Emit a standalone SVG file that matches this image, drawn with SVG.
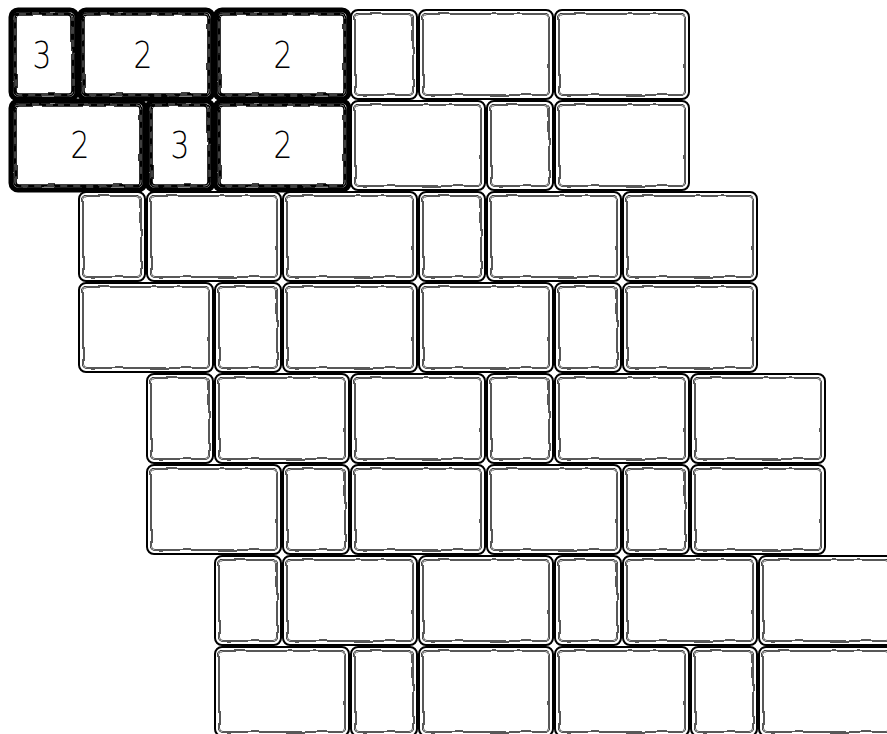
<svg xmlns="http://www.w3.org/2000/svg" width="887" height="734" viewBox="0 0 887 734">
<style>
.o{fill:#fff;stroke:#000;stroke-width:2}
.oh{fill:#fff;stroke:#000;stroke-width:5}
.ib{fill:none;stroke:#000;stroke-width:2}
.iw{fill:none;stroke:#fff;stroke-width:0.7}
.ibh{fill:none;stroke:#000;stroke-width:3.6}
.iwh{fill:none;stroke:#fff;stroke-width:0.5;stroke-dasharray:7 6}
.t{font-family:'DejaVu Sans','Liberation Sans',sans-serif;font-weight:200;font-size:38px;fill:#000;text-anchor:middle}
</style>
<defs>
<filter id="wv" x="-5%" y="-5%" width="110%" height="110%">
<feTurbulence type="fractalNoise" baseFrequency="0.06" numOctaves="1" seed="4"/>
<feDisplacementMap in="SourceGraphic" scale="3.5" xChannelSelector="R" yChannelSelector="G"/>
</filter>
<rect id="o1" x="1" y="1" width="66" height="89" rx="7"/>
<rect id="o2" x="1" y="1" width="134" height="89" rx="7"/>
<rect id="i1" x="5" y="5" width="58" height="81" rx="4"/>
<rect id="i2" x="5" y="5" width="126" height="81" rx="4"/>
</defs>
<rect width="887" height="734" fill="#fff"/>
<g id="bricks">
<!-- row 0 -->
<g id="r0b0" transform="translate(10,9)"><use href="#o1" class="oh"/><g filter="url(#wv)"><use href="#i1" class="ibh"/><use href="#i1" class="iwh"/></g><text class="t" transform="translate(32,59) scale(0.78,1)">3</text></g>
<g id="r0b1" transform="translate(78,9)"><use href="#o2" class="oh"/><g filter="url(#wv)"><use href="#i2" class="ibh"/><use href="#i2" class="iwh"/></g><text class="t" transform="translate(65,59) scale(0.78,1)">2</text></g>
<g id="r0b2" transform="translate(214,9)"><use href="#o2" class="oh"/><g filter="url(#wv)"><use href="#i2" class="ibh"/><use href="#i2" class="iwh"/></g><text class="t" transform="translate(69,59) scale(0.78,1)">2</text></g>
<g id="r0b3" transform="translate(350,9)"><use href="#o1" class="o"/><g filter="url(#wv)"><use href="#i1" class="ib"/><use href="#i1" class="iw"/></g></g>
<g id="r0b4" transform="translate(418,9)"><use href="#o2" class="o"/><g filter="url(#wv)"><use href="#i2" class="ib"/><use href="#i2" class="iw"/></g></g>
<g id="r0b5" transform="translate(554,9)"><use href="#o2" class="o"/><g filter="url(#wv)"><use href="#i2" class="ib"/><use href="#i2" class="iw"/></g></g>
<!-- row 1 -->
<g id="r1b0" transform="translate(10,100)"><use href="#o2" class="oh"/><g filter="url(#wv)"><use href="#i2" class="ibh"/><use href="#i2" class="iwh"/></g><text class="t" transform="translate(70,58) scale(0.78,1)">2</text></g>
<g id="r1b1" transform="translate(146,100)"><use href="#o1" class="oh"/><g filter="url(#wv)"><use href="#i1" class="ibh"/><use href="#i1" class="iwh"/></g><text class="t" transform="translate(34,58) scale(0.78,1)">3</text></g>
<g id="r1b2" transform="translate(214,100)"><use href="#o2" class="oh"/><g filter="url(#wv)"><use href="#i2" class="ibh"/><use href="#i2" class="iwh"/></g><text class="t" transform="translate(69,58) scale(0.78,1)">2</text></g>
<g id="r1b3" transform="translate(350,100)"><use href="#o2" class="o"/><g filter="url(#wv)"><use href="#i2" class="ib"/><use href="#i2" class="iw"/></g></g>
<g id="r1b4" transform="translate(486,100)"><use href="#o1" class="o"/><g filter="url(#wv)"><use href="#i1" class="ib"/><use href="#i1" class="iw"/></g></g>
<g id="r1b5" transform="translate(554,100)"><use href="#o2" class="o"/><g filter="url(#wv)"><use href="#i2" class="ib"/><use href="#i2" class="iw"/></g></g>
<!-- row 2 -->
<g id="r2b0" transform="translate(78,191)"><use href="#o1" class="o"/><g filter="url(#wv)"><use href="#i1" class="ib"/><use href="#i1" class="iw"/></g></g>
<g id="r2b1" transform="translate(146,191)"><use href="#o2" class="o"/><g filter="url(#wv)"><use href="#i2" class="ib"/><use href="#i2" class="iw"/></g></g>
<g id="r2b2" transform="translate(282,191)"><use href="#o2" class="o"/><g filter="url(#wv)"><use href="#i2" class="ib"/><use href="#i2" class="iw"/></g></g>
<g id="r2b3" transform="translate(418,191)"><use href="#o1" class="o"/><g filter="url(#wv)"><use href="#i1" class="ib"/><use href="#i1" class="iw"/></g></g>
<g id="r2b4" transform="translate(486,191)"><use href="#o2" class="o"/><g filter="url(#wv)"><use href="#i2" class="ib"/><use href="#i2" class="iw"/></g></g>
<g id="r2b5" transform="translate(622,191)"><use href="#o2" class="o"/><g filter="url(#wv)"><use href="#i2" class="ib"/><use href="#i2" class="iw"/></g></g>
<!-- row 3 -->
<g id="r3b0" transform="translate(78,282)"><use href="#o2" class="o"/><g filter="url(#wv)"><use href="#i2" class="ib"/><use href="#i2" class="iw"/></g></g>
<g id="r3b1" transform="translate(214,282)"><use href="#o1" class="o"/><g filter="url(#wv)"><use href="#i1" class="ib"/><use href="#i1" class="iw"/></g></g>
<g id="r3b2" transform="translate(282,282)"><use href="#o2" class="o"/><g filter="url(#wv)"><use href="#i2" class="ib"/><use href="#i2" class="iw"/></g></g>
<g id="r3b3" transform="translate(418,282)"><use href="#o2" class="o"/><g filter="url(#wv)"><use href="#i2" class="ib"/><use href="#i2" class="iw"/></g></g>
<g id="r3b4" transform="translate(554,282)"><use href="#o1" class="o"/><g filter="url(#wv)"><use href="#i1" class="ib"/><use href="#i1" class="iw"/></g></g>
<g id="r3b5" transform="translate(622,282)"><use href="#o2" class="o"/><g filter="url(#wv)"><use href="#i2" class="ib"/><use href="#i2" class="iw"/></g></g>
<!-- row 4 -->
<g id="r4b0" transform="translate(146,373)"><use href="#o1" class="o"/><g filter="url(#wv)"><use href="#i1" class="ib"/><use href="#i1" class="iw"/></g></g>
<g id="r4b1" transform="translate(214,373)"><use href="#o2" class="o"/><g filter="url(#wv)"><use href="#i2" class="ib"/><use href="#i2" class="iw"/></g></g>
<g id="r4b2" transform="translate(350,373)"><use href="#o2" class="o"/><g filter="url(#wv)"><use href="#i2" class="ib"/><use href="#i2" class="iw"/></g></g>
<g id="r4b3" transform="translate(486,373)"><use href="#o1" class="o"/><g filter="url(#wv)"><use href="#i1" class="ib"/><use href="#i1" class="iw"/></g></g>
<g id="r4b4" transform="translate(554,373)"><use href="#o2" class="o"/><g filter="url(#wv)"><use href="#i2" class="ib"/><use href="#i2" class="iw"/></g></g>
<g id="r4b5" transform="translate(690,373)"><use href="#o2" class="o"/><g filter="url(#wv)"><use href="#i2" class="ib"/><use href="#i2" class="iw"/></g></g>
<!-- row 5 -->
<g id="r5b0" transform="translate(146,464)"><use href="#o2" class="o"/><g filter="url(#wv)"><use href="#i2" class="ib"/><use href="#i2" class="iw"/></g></g>
<g id="r5b1" transform="translate(282,464)"><use href="#o1" class="o"/><g filter="url(#wv)"><use href="#i1" class="ib"/><use href="#i1" class="iw"/></g></g>
<g id="r5b2" transform="translate(350,464)"><use href="#o2" class="o"/><g filter="url(#wv)"><use href="#i2" class="ib"/><use href="#i2" class="iw"/></g></g>
<g id="r5b3" transform="translate(486,464)"><use href="#o2" class="o"/><g filter="url(#wv)"><use href="#i2" class="ib"/><use href="#i2" class="iw"/></g></g>
<g id="r5b4" transform="translate(622,464)"><use href="#o1" class="o"/><g filter="url(#wv)"><use href="#i1" class="ib"/><use href="#i1" class="iw"/></g></g>
<g id="r5b5" transform="translate(690,464)"><use href="#o2" class="o"/><g filter="url(#wv)"><use href="#i2" class="ib"/><use href="#i2" class="iw"/></g></g>
<!-- row 6 -->
<g id="r6b0" transform="translate(214,555)"><use href="#o1" class="o"/><g filter="url(#wv)"><use href="#i1" class="ib"/><use href="#i1" class="iw"/></g></g>
<g id="r6b1" transform="translate(282,555)"><use href="#o2" class="o"/><g filter="url(#wv)"><use href="#i2" class="ib"/><use href="#i2" class="iw"/></g></g>
<g id="r6b2" transform="translate(418,555)"><use href="#o2" class="o"/><g filter="url(#wv)"><use href="#i2" class="ib"/><use href="#i2" class="iw"/></g></g>
<g id="r6b3" transform="translate(554,555)"><use href="#o1" class="o"/><g filter="url(#wv)"><use href="#i1" class="ib"/><use href="#i1" class="iw"/></g></g>
<g id="r6b4" transform="translate(622,555)"><use href="#o2" class="o"/><g filter="url(#wv)"><use href="#i2" class="ib"/><use href="#i2" class="iw"/></g></g>
<g id="r6b5" transform="translate(758,555)"><use href="#o2" class="o"/><g filter="url(#wv)"><use href="#i2" class="ib"/><use href="#i2" class="iw"/></g></g>
<!-- row 7 -->
<g id="r7b0" transform="translate(214,646)"><use href="#o2" class="o"/><g filter="url(#wv)"><use href="#i2" class="ib"/><use href="#i2" class="iw"/></g></g>
<g id="r7b1" transform="translate(350,646)"><use href="#o1" class="o"/><g filter="url(#wv)"><use href="#i1" class="ib"/><use href="#i1" class="iw"/></g></g>
<g id="r7b2" transform="translate(418,646)"><use href="#o2" class="o"/><g filter="url(#wv)"><use href="#i2" class="ib"/><use href="#i2" class="iw"/></g></g>
<g id="r7b3" transform="translate(554,646)"><use href="#o2" class="o"/><g filter="url(#wv)"><use href="#i2" class="ib"/><use href="#i2" class="iw"/></g></g>
<g id="r7b4" transform="translate(690,646)"><use href="#o1" class="o"/><g filter="url(#wv)"><use href="#i1" class="ib"/><use href="#i1" class="iw"/></g></g>
<g id="r7b5" transform="translate(758,646)"><use href="#o2" class="o"/><g filter="url(#wv)"><use href="#i2" class="ib"/><use href="#i2" class="iw"/></g></g>
</g>
</svg>
